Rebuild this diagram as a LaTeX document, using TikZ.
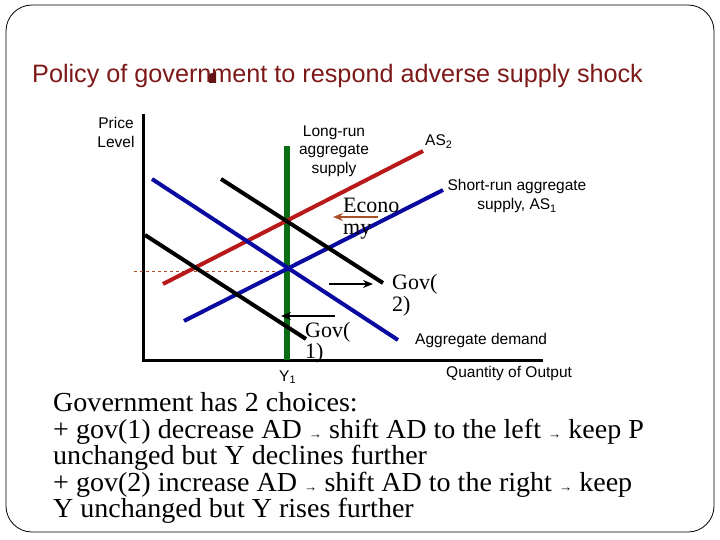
\documentclass[tikz,border=0pt]{standalone}
\usepackage{fontspec}
\setmainfont{Liberation Serif}
\setsansfont{Liberation Sans}
\newfontfamily\bodyfont{Liberation Serif}[FakeStretch=1.02]
\usetikzlibrary{arrows.meta}
\definecolor{titlered}{RGB}{125,25,25}
\definecolor{asred}{RGB}{185,25,25}
\definecolor{adblue}{RGB}{10,10,160}
\definecolor{lrgreen}{RGB}{10,110,20}
\definecolor{brownarr}{RGB}{170,80,40}
\tikzset{
  lab/.style={font=\sffamily\fontsize{15.5}{18}\selectfont, inner sep=0pt},
  serlab/.style={font=\fontsize{22}{21}\selectfont, inner sep=0pt, anchor=base west},
  body/.style={font=\bodyfont\fontsize{27.5}{27}\selectfont, inner sep=0pt, anchor=base west},
  curve/.style={line width=4pt},
  shiftarr/.style={line width=1.5pt, -{Stealth[length=10pt,width=8pt]}},
}
\newcommand{\sarr}{{\fontsize{13}{13}\selectfont →}}
\begin{document}
\begin{tikzpicture}[x=1pt,y=-1pt]
\useasboundingbox (0,0) rectangle (720,540);
% frame
\draw[line width=0.8pt, rounded corners=26pt] (6,5) rectangle (714,532);
% title
\node[font=\sffamily\fontsize{25.2}{26}\selectfont, text=titlered, anchor=base west, inner sep=0pt] (title) at (32,83) {Policy of government to respond adverse supply shock};
\fill[titlered!80!black] (209,74) -- (216,72) -- (216,83) -- (209,83) -- cycle;
% axes
\coordinate (o) at (143,360);
\coordinate (ytop) at (143,114);
\coordinate (xend) at (543,360);
\draw[line width=3pt] (ytop) -- (o) -- (xend);
% dashed price line
\coordinate (d1) at (134,271);
\coordinate (d2) at (287,271);
\draw[brownarr, dashed, line width=0.7pt] (d1) -- (d2);
% LRAS
\coordinate (lr1) at (287,146);
\coordinate (lr2) at (287,360);
\draw[lrgreen, line width=6pt] (lr1) -- (lr2);
% AS2
\coordinate (as2a) at (163,284);
\coordinate (as2b) at (423,151);
\draw[curve, asred] (as2a) -- (as2b);
% AS1
\coordinate (as1a) at (184,321);
\coordinate (as1b) at (443,190);
\draw[curve, adblue] (as1a) -- (as1b);
% AD
\coordinate (ada) at (152,179);
\coordinate (adb) at (398,340);
\draw[curve, adblue] (ada) -- (adb);
% AD gov2
\coordinate (g2a) at (221,179);
\coordinate (g2b) at (383,283);
\draw[curve, black] (g2a) -- (g2b);
% AD gov1
\coordinate (g1a) at (145,235);
\coordinate (g1b) at (306,339);
\draw[curve, black] (g1a) -- (g1b);
% shift arrows
\coordinate (ea) at (378,217);
\coordinate (eb) at (333,217);
\draw[shiftarr, brownarr] (ea) -- (eb);
\coordinate (ra) at (329,284);
\coordinate (rb) at (373,284);
\draw[shiftarr, black] (ra) -- (rb);
\coordinate (la) at (335,316);
\coordinate (lb) at (281,316);
\draw[shiftarr, black] (la) -- (lb);
% sans labels
\node[lab, anchor=base] (price) at (116,129) {Price};
\node[lab, anchor=base] (level) at (116,148) {Level};
\node[lab, anchor=base] (lras1) at (334,137) {Long-run};
\node[lab, anchor=base] (lras2) at (334,155) {aggregate};
\node[lab, anchor=base] (lras3) at (334,174) {supply};
\node[lab, anchor=base west] (as2) at (425,146) {AS\textsubscript{2}};
\node[lab, anchor=base] (sras1) at (517,191) {Short-run aggregate};
\node[lab, anchor=base] (sras2) at (517,210) {supply, AS\textsubscript{1}};
\node[lab, anchor=base west] (adl) at (415,344) {Aggregate demand};
\node[lab, anchor=base west] (qo) at (446,377) {Quantity of Output};
\node[lab, anchor=base west] (y1) at (279,381) {Y\textsubscript{1}};
% serif labels
\node[serlab] (econ) at (343,213) {Econo};
\node[serlab] (my) at (343,234) {my};
\node[serlab] (gov2) at (392,289) {Gov(};
\node[serlab] (gov2b) at (392,311) {2)};
\node[serlab] (gov1) at (305,337) {Gov(};
\node[serlab] (gov1b) at (305,358) {1)};
% body text
\node[body] (t1) at (53,411) {Government has 2 choices:};
\node[body] (t2) at (53,438) {+ gov(1) decrease AD \sarr{} shift AD to the left \sarr{}  keep P};
\node[body] (t3) at (53,464) {unchanged but Y declines further};
\node[body] (t4) at (53,491) {+ gov(2) increase AD \sarr{} shift AD to the right \sarr{}  keep};
\node[body] (t5) at (53,517) {Y unchanged but Y rises further};
\end{tikzpicture}
\end{document}
